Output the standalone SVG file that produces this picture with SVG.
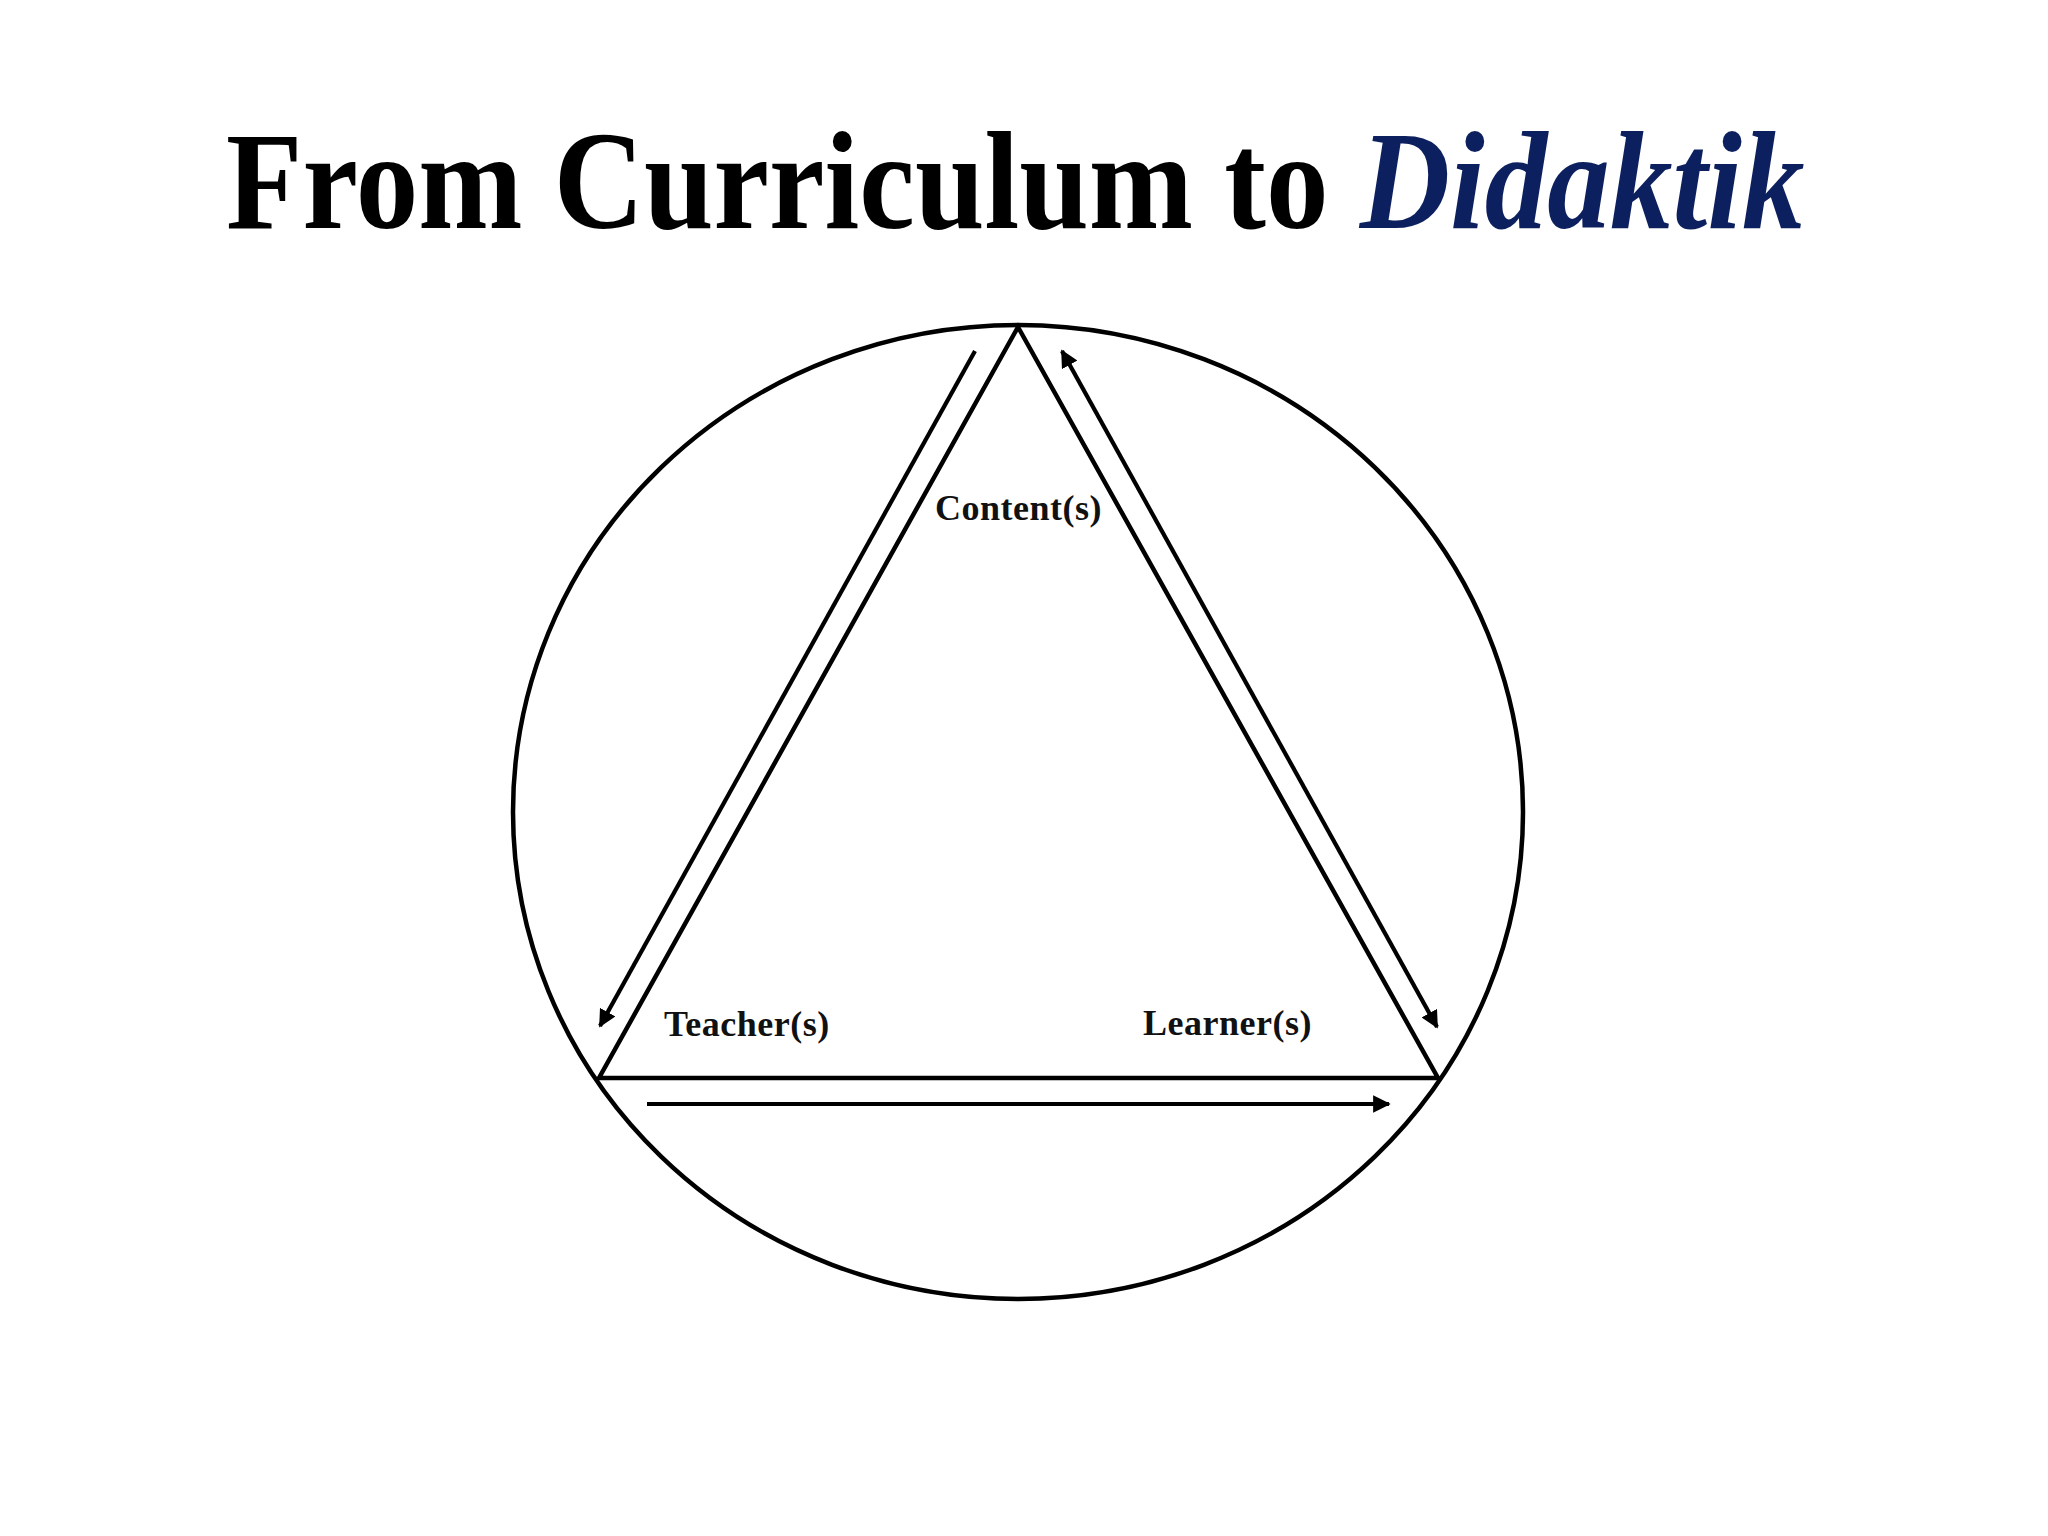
<svg xmlns="http://www.w3.org/2000/svg" width="2048" height="1536" viewBox="0 0 2048 1536">
<defs>
<style>
.shape{fill:none;stroke:#000;stroke-width:4.5}
.conn{fill:none;stroke:#000;stroke-width:4.2}
.lbl{font-family:"Liberation Serif","Times New Roman",serif;font-weight:bold;font-size:36px;fill:#111;letter-spacing:0.5px}
.title{font-family:"Liberation Serif","Times New Roman",serif;font-weight:bold;font-size:139px;fill:#000}
</style>
<marker id="ah" viewBox="0 0 10 10" refX="9" refY="5" markerWidth="4.2" markerHeight="4.2" markerUnits="strokeWidth" orient="auto-start-reverse">
<path d="M0,0 L10,5 L0,10 z" fill="#000"/>
</marker>
</defs>
<rect width="2048" height="1536" fill="#fff"/>
<text class="title" transform="translate(226,228) scale(0.9,1)">From Curriculum to <tspan font-style="italic" fill="#0c1f5e">Didaktik</tspan></text>
<g id="circle"><ellipse class="shape" cx="1018" cy="812" rx="505" ry="487"/></g>
<g id="triangle"><polygon class="shape" points="1018,327 599,1078 1438,1078" stroke-linejoin="miter"/></g>
<g id="content"><text class="lbl" x="935" y="520">Content(s)</text></g>
<g id="teacher"><text class="lbl" x="664" y="1036">Teacher(s)</text></g>
<g id="learner"><text class="lbl" x="1143" y="1035">Learner(s)</text></g>
<g id="connectors">
<line class="conn" x1="975" y1="351" x2="600" y2="1026" marker-end="url(#ah)"/>
<line class="conn" x1="1062" y1="351" x2="1437" y2="1027" marker-start="url(#ah)" marker-end="url(#ah)"/>
<line class="conn" x1="647" y1="1104" x2="1389" y2="1104" marker-end="url(#ah)"/>
</g>
</svg>
